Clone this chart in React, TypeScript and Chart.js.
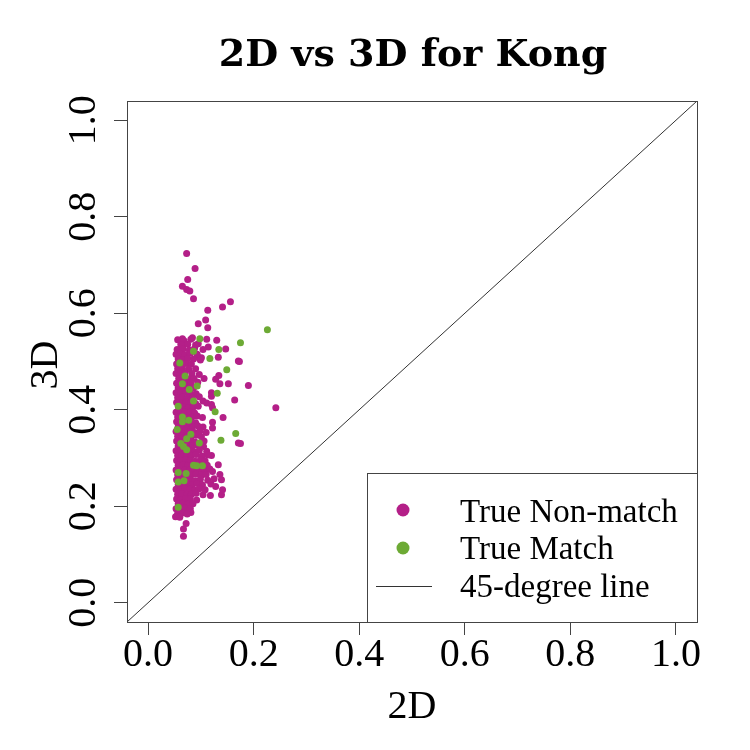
import React, { useEffect, useRef } from 'react';
import { Chart, registerables } from 'chart.js';

Chart.register(...registerables);

const title = '2D vs 3D for Kong';
const xLabel = '2D';
const yLabel = '3D';
const axisMin = -0.04;
const axisMax = 1.04;
const tickValues = [0, 0.2, 0.4, 0.6, 0.8, 1.0];
const legendLabels = ['True Non-match', 'True Match', '45-degree line'];

const nonMatchColor = '#B41F88';
const matchColor = '#6DAA35';

// [2D score, 3D score]
const nonMatchPoints: [number, number][] = [
  // scattered points
  [0.073, 0.724], [0.089, 0.693], [0.075, 0.670], [0.065, 0.656], [0.073, 0.649], [0.079, 0.646],
  [0.086, 0.630], [0.156, 0.624], [0.141, 0.613], [0.113, 0.606], [0.109, 0.586], [0.095, 0.578],
  [0.113, 0.570], [0.065, 0.547], [0.084, 0.549], [0.111, 0.546], [0.130, 0.544], [0.065, 0.532],
  [0.095, 0.537], [0.114, 0.530], [0.104, 0.525], [0.147, 0.526], [0.097, 0.507], [0.101, 0.508],
  [0.133, 0.509], [0.171, 0.501], [0.173, 0.500], [0.106, 0.465], [0.097, 0.473], [0.134, 0.471],
  [0.136, 0.454], [0.128, 0.463], [0.152, 0.454], [0.190, 0.450], [0.120, 0.435], [0.120, 0.428],
  [0.164, 0.420], [0.242, 0.404], [0.104, 0.418], [0.111, 0.414], [0.120, 0.411], [0.122, 0.404],
  [0.142, 0.384], [0.122, 0.374], [0.122, 0.362], [0.110, 0.353], [0.171, 0.331], [0.175, 0.330],
  [0.106, 0.335], [0.111, 0.314], [0.120, 0.305], [0.133, 0.286], [0.122, 0.272], [0.136, 0.266],
  [0.139, 0.255], [0.128, 0.241], [0.141, 0.234], [0.139, 0.224], [0.118, 0.222], [0.104, 0.224],
  [0.081, 0.187], [0.072, 0.164], [0.067, 0.153], [0.067, 0.138],
  // dense band
  [0.056, 0.545], [0.068, 0.543], [0.081, 0.546],
  [0.062, 0.535], [0.075, 0.536], [0.090, 0.534],
  [0.055, 0.525], [0.066, 0.526], [0.078, 0.524], [0.088, 0.527],
  [0.053, 0.515], [0.061, 0.516], [0.070, 0.514], [0.080, 0.517], [0.093, 0.515],
  [0.057, 0.505], [0.066, 0.504], [0.075, 0.506], [0.086, 0.505], [0.099, 0.503],
  [0.054, 0.495], [0.063, 0.494], [0.072, 0.496], [0.082, 0.495],
  [0.056, 0.485], [0.065, 0.486], [0.077, 0.484], [0.090, 0.485],
  [0.053, 0.475], [0.061, 0.474], [0.070, 0.476], [0.083, 0.475],
  [0.058, 0.465], [0.067, 0.466], [0.078, 0.464], [0.087, 0.465],
  [0.054, 0.455], [0.062, 0.454], [0.072, 0.456], [0.081, 0.455], [0.094, 0.457],
  [0.057, 0.445], [0.066, 0.446], [0.075, 0.444], [0.086, 0.445],
  [0.053, 0.435], [0.062, 0.434], [0.071, 0.436], [0.080, 0.435], [0.091, 0.433],
  [0.056, 0.425], [0.065, 0.426], [0.074, 0.424], [0.084, 0.425], [0.097, 0.427],
  [0.054, 0.415], [0.063, 0.414], [0.072, 0.416], [0.081, 0.415], [0.090, 0.413],
  [0.058, 0.405], [0.067, 0.406], [0.076, 0.404], [0.085, 0.405], [0.095, 0.407],
  [0.053, 0.395], [0.061, 0.394], [0.070, 0.396], [0.079, 0.395], [0.088, 0.393],
  [0.056, 0.385], [0.064, 0.386], [0.073, 0.384], [0.083, 0.385], [0.093, 0.387], [0.103, 0.384],
  [0.054, 0.375], [0.062, 0.374], [0.071, 0.376], [0.080, 0.375], [0.090, 0.373],
  [0.057, 0.365], [0.066, 0.366], [0.075, 0.364], [0.084, 0.365], [0.094, 0.367], [0.104, 0.364],
  [0.053, 0.355], [0.061, 0.354], [0.070, 0.356], [0.079, 0.355], [0.088, 0.353], [0.098, 0.356],
  [0.056, 0.345], [0.064, 0.346], [0.073, 0.344], [0.082, 0.345], [0.091, 0.347], [0.101, 0.344],
  [0.054, 0.335], [0.062, 0.334], [0.071, 0.336], [0.080, 0.335], [0.089, 0.333],
  [0.057, 0.325], [0.066, 0.326], [0.075, 0.324], [0.084, 0.325], [0.093, 0.327], [0.105, 0.324],
  [0.053, 0.315], [0.061, 0.314], [0.070, 0.316], [0.079, 0.315], [0.088, 0.313], [0.097, 0.316],
  [0.056, 0.305], [0.064, 0.306], [0.073, 0.304], [0.082, 0.305], [0.091, 0.307], [0.102, 0.304], [0.113, 0.306],
  [0.054, 0.295], [0.062, 0.294], [0.071, 0.296], [0.080, 0.295], [0.089, 0.293], [0.099, 0.296], [0.108, 0.294],
  [0.057, 0.285], [0.066, 0.286], [0.075, 0.284], [0.084, 0.285], [0.094, 0.287], [0.112, 0.285],
  [0.053, 0.275], [0.061, 0.274], [0.070, 0.276], [0.079, 0.275], [0.088, 0.273], [0.098, 0.276], [0.107, 0.274], [0.117, 0.277],
  [0.056, 0.265], [0.064, 0.266], [0.073, 0.264], [0.082, 0.265], [0.091, 0.267], [0.101, 0.264], [0.110, 0.266],
  [0.054, 0.255], [0.062, 0.254], [0.071, 0.256], [0.080, 0.255], [0.089, 0.253], [0.099, 0.256], [0.113, 0.254], [0.125, 0.257],
  [0.057, 0.245], [0.066, 0.246], [0.075, 0.244], [0.084, 0.245], [0.093, 0.247], [0.103, 0.244], [0.119, 0.246],
  [0.053, 0.235], [0.061, 0.234], [0.070, 0.236], [0.079, 0.235], [0.088, 0.233], [0.097, 0.236], [0.108, 0.234],
  [0.056, 0.225], [0.064, 0.226], [0.073, 0.224], [0.082, 0.225], [0.091, 0.227],
  [0.054, 0.215], [0.062, 0.214], [0.071, 0.216], [0.080, 0.215], [0.092, 0.213],
  [0.057, 0.205], [0.066, 0.206], [0.075, 0.204], [0.085, 0.205],
  [0.053, 0.195], [0.061, 0.194], [0.070, 0.196], [0.080, 0.195],
  [0.056, 0.185], [0.065, 0.186], [0.074, 0.184],
  [0.052, 0.178], [0.060, 0.177],
];

const matchPoints: [number, number][] = [
  [0.226, 0.566], [0.098, 0.547], [0.175, 0.539], [0.134, 0.525], [0.086, 0.521], [0.117, 0.506],
  [0.060, 0.497], [0.149, 0.483], [0.070, 0.470], [0.065, 0.454], [0.093, 0.449], [0.078, 0.442],
  [0.131, 0.434], [0.086, 0.418], [0.057, 0.407], [0.127, 0.396], [0.065, 0.385], [0.065, 0.375],
  [0.077, 0.378], [0.055, 0.359], [0.166, 0.351], [0.081, 0.349], [0.073, 0.340], [0.138, 0.337],
  [0.097, 0.331], [0.062, 0.330], [0.067, 0.324], [0.073, 0.317], [0.086, 0.285], [0.092, 0.284],
  [0.103, 0.284], [0.057, 0.270], [0.072, 0.268], [0.057, 0.250], [0.068, 0.253], [0.057, 0.198],
];

const diagonal = [axisMin, axisMax];

const serif = '"Liberation Serif", "Times New Roman", serif';

const decorations = {
  id: 'decorations',
  afterDraw(chart: Chart) {
    const { ctx, chartArea: a } = chart;
    ctx.save();

    // plot box
    ctx.strokeStyle = '#444';
    ctx.lineWidth = 1;
    ctx.strokeRect(a.left + 0.5, a.top + 0.5, a.right - a.left, a.bottom - a.top);

    // title and axis titles
    ctx.fillStyle = '#000';
    ctx.textAlign = 'center';
    ctx.textBaseline = 'alphabetic';
    ctx.font = 'bold 38px "DejaVu Serif", serif';
    ctx.fillText(title, 413, 66);
    ctx.font = `40px ${serif}`;
    ctx.fillText(xLabel, (a.left + a.right) / 2, 718);
    ctx.save();
    ctx.translate(57, 365);
    ctx.rotate(-Math.PI / 2);
    ctx.fillText(yLabel, 0, 0);
    ctx.restore();

    // legend
    const lx = 367;
    const ly = 473;
    ctx.strokeRect(lx + 0.5, ly + 0.5, a.right - lx, a.bottom - ly);
    ctx.fillStyle = nonMatchColor;
    ctx.beginPath();
    ctx.arc(403, 510, 6.5, 0, Math.PI * 2);
    ctx.fill();
    ctx.fillStyle = matchColor;
    ctx.beginPath();
    ctx.arc(403, 548, 6.5, 0, Math.PI * 2);
    ctx.fill();
    ctx.strokeStyle = '#333';
    ctx.beginPath();
    ctx.moveTo(376, 586.5);
    ctx.lineTo(432, 586.5);
    ctx.stroke();
    ctx.fillStyle = '#000';
    ctx.textAlign = 'left';
    ctx.font = `33px ${serif}`;
    ctx.fillText(legendLabels[0], 460, 522);
    ctx.fillText(legendLabels[1], 460, 559);
    ctx.fillText(legendLabels[2], 460, 597);

    ctx.restore();
  },
};

function ScatterChart() {
  const canvasRef = useRef<HTMLCanvasElement>(null);

  useEffect(() => {
    if (!canvasRef.current) return;
    document.body.style.margin = '0';

    const tickFont = { family: serif, size: 40, lineHeight: 1 };
    const setTicks = (scale: any) => {
      scale.ticks = tickValues.map((v) => ({ value: v }));
    };

    const chart = new Chart(canvasRef.current, {
      type: 'scatter',
      data: {
        datasets: [
          {
            label: legendLabels[1],
            data: matchPoints.map(([x, y]) => ({ x, y })),
            backgroundColor: matchColor,
            pointRadius: 3.5,
            pointBorderWidth: 0,
            order: 0,
          },
          {
            label: legendLabels[0],
            data: nonMatchPoints.map(([x, y]) => ({ x, y })),
            backgroundColor: nonMatchColor,
            pointRadius: 3.5,
            pointBorderWidth: 0,
            order: 1,
          },
          {
            type: 'line',
            label: legendLabels[2],
            data: diagonal.map((v) => ({ x: v, y: v })),
            borderColor: '#333',
            borderWidth: 1,
            pointRadius: 0,
            showLine: true,
            order: 2,
          },
        ],
      },
      plugins: [decorations],
      options: {
        animation: false,
        responsive: true,
        maintainAspectRatio: false,
        layout: { padding: { top: 101, right: 53, left: 0, bottom: 0 } },
        plugins: {
          legend: { display: false },
          tooltip: { enabled: false },
        },
        scales: {
          x: {
            type: 'linear',
            min: axisMin,
            max: axisMax,
            afterBuildTicks: setTicks,
            afterFit: (scale: any) => {
              scale.height = 128;
            },
            grid: { drawOnChartArea: false, tickLength: 13, color: '#444' },
            border: { display: false },
            ticks: {
              font: tickFont,
              color: '#000',
              padding: 0,
              maxRotation: 0,
              autoSkip: false,
              callback: (v: any) => Number(v).toFixed(1),
            },
          },
          y: {
            type: 'linear',
            min: axisMin,
            max: axisMax,
            afterBuildTicks: setTicks,
            afterFit: (scale: any) => {
              scale.width = 127;
            },
            grid: { drawOnChartArea: false, tickLength: 13, color: '#444' },
            border: { display: false },
            ticks: {
              font: tickFont,
              color: '#000',
              padding: 5,
              minRotation: 90,
              maxRotation: 90,
              crossAlign: 'center',
              autoSkip: false,
              callback: (v: any) => Number(v).toFixed(1),
            },
          },
        },
      },
    });

    return () => {
      chart.destroy();
    };
  }, []);

  return (
    <div style={{ width: '750px', height: '750px', position: 'relative', background: '#fff' }}>
      <canvas ref={canvasRef} />
    </div>
  );
}

export default function App() {
  return <ScatterChart />;
}
